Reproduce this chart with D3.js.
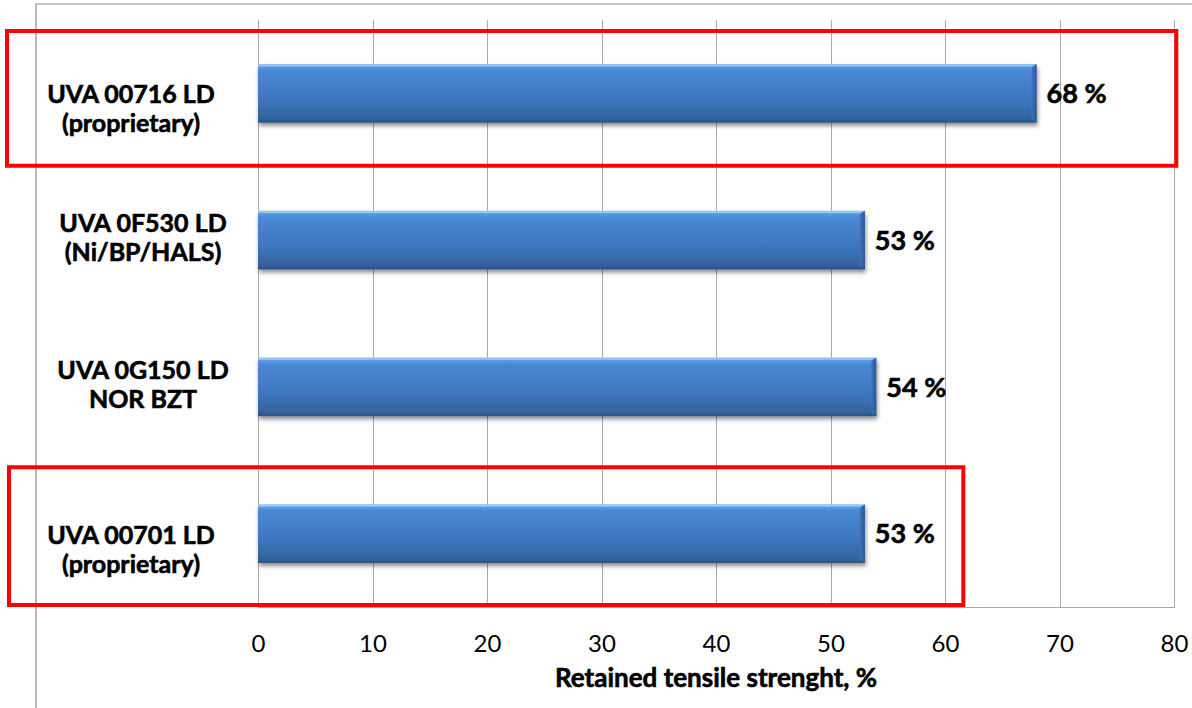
<!DOCTYPE html>
<html>
<head>
<meta charset="utf-8">
<script src="https://cdn.jsdelivr.net/npm/d3@7"></script>
<style>
  html, body { margin: 0; padding: 0; background: #fff; }
  svg { display: block; }
  text { font-family: Lato, "Open Sans", "Liberation Sans", sans-serif; fill: #000; }
  .heavy { font-weight: bold; stroke: #000; stroke-width: 0.6px; }
</style>
</head>
<body>
<svg id="chart" width="1192" height="708"></svg>
<script>
// Retained tensile strength after exposure, per UV-absorber package
const categories = [
  ["UVA 00716 LD", "(proprietary)"],
  ["UVA 0F530 LD", "(Ni/BP/HALS)"],
  ["UVA 0G150 LD", "NOR BZT"],
  ["UVA 00701 LD", "(proprietary)"]
];
const retained = [68, 53, 54, 53];
const highlighted = [true, false, false, true];
const xTicks = [0, 10, 20, 30, 40, 50, 60, 70, 80];
const xTitle = "Retained tensile strenght, %";
// right-hand end (in axis units) of each red highlight frame
const highlightEnd = [80.2, 61.6];

const svg = d3.select("#chart");
const W = 1192, H = 708;
const plot = { left: 258, right: 1174, top: 20, bottom: 607 };

const keys = categories.map(c => c.join(" "));
const x = d3.scaleLinear().domain([0, 80]).range([plot.left, plot.right]);
const y = d3.scaleBand().domain(keys).range([plot.top, plot.bottom])
  .paddingInner(0.6).paddingOuter(0.3);

// gradients / shadow for the bevelled bars
const defs = svg.append("defs");
const g = defs.append("linearGradient").attr("id", "barFill")
  .attr("x1", 0).attr("y1", 0).attr("x2", 0).attr("y2", 1);
[[0, "#8cc0f4"], [0.05, "#5a9be3"], [0.12, "#4a88d4"], [0.55, "#3f79c2"],
 [0.92, "#33649f"], [1, "#2a5288"]].forEach(([o, c]) =>
  g.append("stop").attr("offset", o).attr("stop-color", c));
const ge = defs.append("linearGradient").attr("id", "endFill")
  .attr("x1", 0).attr("y1", 0).attr("x2", 1).attr("y2", 0);
[[0, "#3c73b8"], [1, "#2d5a95"]].forEach(([o, c]) =>
  ge.append("stop").attr("offset", o).attr("stop-color", c));
const sh = defs.append("filter").attr("id", "shadow")
  .attr("x", "-5%").attr("y", "-20%").attr("width", "110%").attr("height", "160%");
sh.append("feGaussianBlur").attr("in", "SourceAlpha").attr("stdDeviation", 2.2).attr("result", "b");
sh.append("feOffset").attr("dx", 1).attr("dy", 3).attr("result", "o");
sh.append("feComponentTransfer").append("feFuncA").attr("type", "linear").attr("slope", 0.45);
const m = sh.append("feMerge");
m.append("feMergeNode");
m.append("feMergeNode").attr("in", "SourceGraphic");

svg.append("rect").attr("width", W).attr("height", H).attr("fill", "#fff");

// outer chart frame (left and top edges)
svg.append("path")
  .attr("d", `M36,${H} L36,4 L${W},4`)
  .attr("fill", "none").attr("stroke", "#8a8a8a").attr("stroke-width", 1.2);

// vertical gridlines
svg.append("g").selectAll("line").data(xTicks).join("line")
  .attr("x1", d => Math.round(x(d)) + 0.5).attr("x2", d => Math.round(x(d)) + 0.5)
  .attr("y1", plot.top).attr("y2", plot.bottom)
  .attr("stroke", "#a9a9a9").attr("stroke-width", 1);

// bottom edge of the plot area
svg.append("line")
  .attr("x1", plot.left).attr("x2", plot.right + 1)
  .attr("y1", plot.bottom + 0.5).attr("y2", plot.bottom + 0.5)
  .attr("stroke", "#a9a9a9");

// x axis tick labels (no tick marks / domain line)
const xAxis = d3.axisBottom(x).tickValues(xTicks).tickSize(0).tickPadding(0);
const ax = svg.append("g").attr("transform", `translate(0,${plot.bottom + 45})`).call(xAxis);
ax.select(".domain").remove();
ax.selectAll("text")
  .attr("dy", 0).attr("y", 0)
  .style("font-family", "Lato, 'Open Sans', sans-serif")
  .style("font-size", "24px").attr("fill", "#000");

svg.append("text")
  .attr("class", "heavy")
  .attr("x", x(40)).attr("y", 687)
  .attr("text-anchor", "middle")
  .style("font-size", "26px")
  .text(xTitle);

// bars
const bars = svg.append("g").selectAll("g").data(retained).join("g")
  .attr("filter", "url(#shadow)");
bars.append("rect")
  .attr("x", x(0)).attr("y", (d, i) => y(keys[i]))
  .attr("width", d => x(d) - x(0)).attr("height", y.bandwidth())
  .attr("fill", "url(#barFill)");
// narrow bevel at the bar tip
bars.append("path")
  .attr("d", (d, i) => {
    const x1 = x(d), y0 = y(keys[i]), h = y.bandwidth();
    return `M${x1 - 5},${y0 + 4} L${x1},${y0} L${x1},${y0 + h} L${x1 - 5},${y0 + h - 4}Z`;
  })
  .attr("fill", "url(#endFill)");
bars.append("line")
  .attr("x1", x(0)).attr("x2", d => x(d) - 4)
  .attr("y1", (d, i) => y(keys[i]) + 1.5).attr("y2", (d, i) => y(keys[i]) + 1.5)
  .attr("stroke", "#a9d1fa").attr("stroke-width", 1.5).attr("opacity", 0.8);

// value labels
svg.append("g").selectAll("text").data(retained).join("text")
  .attr("class", "heavy")
  .attr("x", d => x(d) + 10)
  .attr("y", (d, i) => y(keys[i]) + y.bandwidth() / 2)
  .attr("dy", "0.36em")
  .style("font-size", "27px")
  .text(d => `${d} %`);

// category labels (two lines each)
const labels = svg.append("g").selectAll("text").data(categories).join("text")
  .attr("class", "heavy")
  .attr("text-anchor", "middle")
  .attr("transform", (d, i) => {
    const cy = y(keys[i]) + y.bandwidth() / 2 + (highlighted[i] ? 18 : 0);
    return `translate(${highlighted[i] ? 131 : 143},${cy})`;
  })
  .style("font-size", "25px");
labels.each(function(d) {
  const t = d3.select(this);
  d.forEach((line, j) => {
    t.append("tspan").attr("x", 0).attr("y", j === 0 ? -8 : 21).text(line);
  });
});

// red highlight frames around the proprietary packages
const hl = keys.filter((k, i) => highlighted[i]);
const step = y.step();
const rowTop = k => y(k) - step * y.paddingOuter();
const frames = [
  { x0: 7, y0: rowTop(hl[0]) + 11, y1: rowTop(hl[0]) + step - 1, end: highlightEnd[0] },
  { x0: 9, y0: rowTop(hl[1]) + 7, y1: rowTop(hl[1]) + step - 2, end: highlightEnd[1] }
];
svg.append("g").selectAll("rect").data(frames).join("rect")
  .attr("x", d => d.x0).attr("y", d => d.y0)
  .attr("width", d => x(d.end) - d.x0).attr("height", d => d.y1 - d.y0)
  .attr("fill", "none").attr("stroke", "#ff0000").attr("stroke-width", 4);
</script>
</body>
</html>
